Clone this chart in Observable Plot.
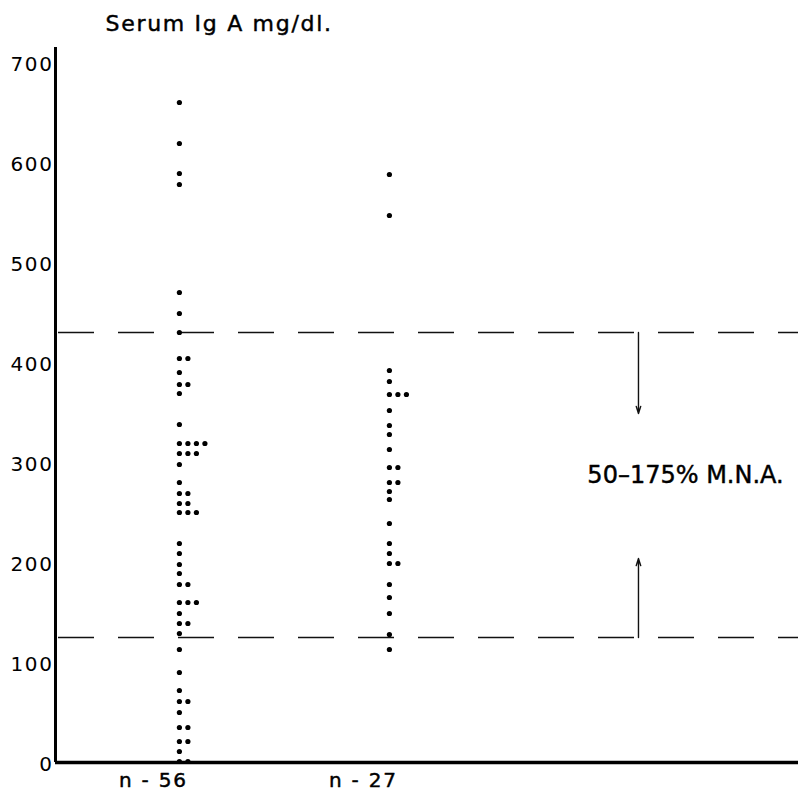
<!DOCTYPE html>
<html>
<head>
<meta charset="utf-8">
<script src="https://cdn.jsdelivr.net/npm/d3@7"></script>
<script src="https://cdn.jsdelivr.net/npm/@observablehq/plot@0.6"></script>
<style>
  html, body { margin: 0; padding: 0; background: #fff; }
  #chart svg { display: block; font-family: "DejaVu Sans", sans-serif; }
</style>
</head>
<body>
<div id="chart"></div>
<script>
// ---- Data (serum IgA, mg/dl) ----
const groupLabels = ["n - 56", "n - 27"];
const groupPositions = [1, 2];
const igaGroup1 = [660, 619, 589, 578, 470, 449, 430, 404, 404, 390, 378, 378, 369, 338,
  319, 319, 319, 319, 309, 309, 309, 298, 280, 269, 269, 259, 259, 250, 250, 250,
  219, 209, 198, 189, 178, 178, 160, 160, 160, 149, 139, 139, 129, 113, 90, 72,
  61, 61, 50, 35, 35, 21, 21, 11, 1, 1];
const igaGroup2 = [588, 547, 392, 381, 368, 368, 368, 352, 337, 328, 313, 295, 295,
  280, 280, 271, 263, 239, 219, 209, 199, 199, 178, 165, 149, 128, 113];
const yTicks = [0, 100, 200, 300, 400, 500, 600, 700];
const normalRange = [125, 430];          // 50 % and 175 % of mean normal adult value
const arrowTips = [349, 204];            // where the range arrows end
const rangeLabel = "50\u2013175% M.N.A.";
const yTitle = "Serum Ig A mg/dl.";

// annotation layout (x in group units)
const annotX = 3.186;
const labelX = 3.41;
const dotStep = 0.0405;                  // horizontal offset for repeated values

// ---- Build table ----
const rows = [];
[igaGroup1, igaGroup2].forEach((vals, gi) => {
  const seen = new Map();
  vals.forEach(v => {
    const k = seen.get(v) || 0;
    seen.set(v, k + 1);
    rows.push({group: groupLabels[gi], value: v, x: groupPositions[gi] + k * dotStep});
  });
});
const arrows = [
  {x: annotX, y1: normalRange[1], y2: arrowTips[0]},
  {x: annotX, y1: normalRange[0], y2: arrowTips[1]}
];
const groupTable = groupLabels.map((g, i) => ({label: g, x: groupPositions[i]}));

const bold = {stroke: "#000", strokeWidth: 0.45};

const chart = Plot.plot({
  width: 798,
  height: 801,
  marginLeft: 55,
  marginRight: 0,
  marginTop: 47,
  marginBottom: 39,
  style: {fontFamily: "DejaVu Sans, sans-serif", color: "#000", background: "#fff"},
  x: {domain: [0.41, 3.948], axis: null},
  y: {domain: [0, 715], axis: null},
  marks: [
    Plot.ruleY(normalRange, {stroke: "#111", strokeWidth: 1.4, strokeDasharray: "36,24", strokeDashoffset: -3}),
    Plot.arrow(arrows, {x1: "x", x2: "x", y1: "y1", y2: "y2", stroke: "#111", strokeWidth: 1.4, headLength: 8, headAngle: 35}),
    Plot.text([rangeLabel], {x: labelX, y: d3.mean(normalRange) + 10, fontSize: 24, fill: "#000", ...bold}),
    Plot.dot(rows, {x: "x", y: "value", r: 2.6, fill: "#000", stroke: null}),
    Plot.ruleX([0.41], {stroke: "#000", strokeWidth: 3}),
    Plot.ruleY([0], {stroke: "#000", strokeWidth: 3.5}),
    Plot.axisY(yTicks, {tickSize: 0, tickPadding: 2, dy: 2, fontSize: 20, fill: "#000", ...bold}),
    Plot.text(groupTable, {x: "x", text: "label", frameAnchor: "bottom", dy: 24, dx: -26, fontSize: 20, fill: "#000", ...bold}),
    Plot.text([yTitle], {frameAnchor: "top-left", dx: 50, dy: -17, lineAnchor: "bottom", textAnchor: "start", fontSize: 22, fill: "#000", ...bold})
  ]
});
// widen the lettering like the original typesetting
d3.select(chart).selectAll("text").each(function () {
  const t = this.textContent;
  let ls = null;
  if (t === yTitle) ls = "1.7px";
  else if (groupLabels.includes(t)) ls = "1.8px";
  else if (/^\d+$/.test(t)) ls = "1.6px";
  if (ls) { this.setAttribute("letter-spacing", ls); this.style.letterSpacing = ls; }
});
document.getElementById("chart").appendChild(chart);
</script>
</body>
</html>
